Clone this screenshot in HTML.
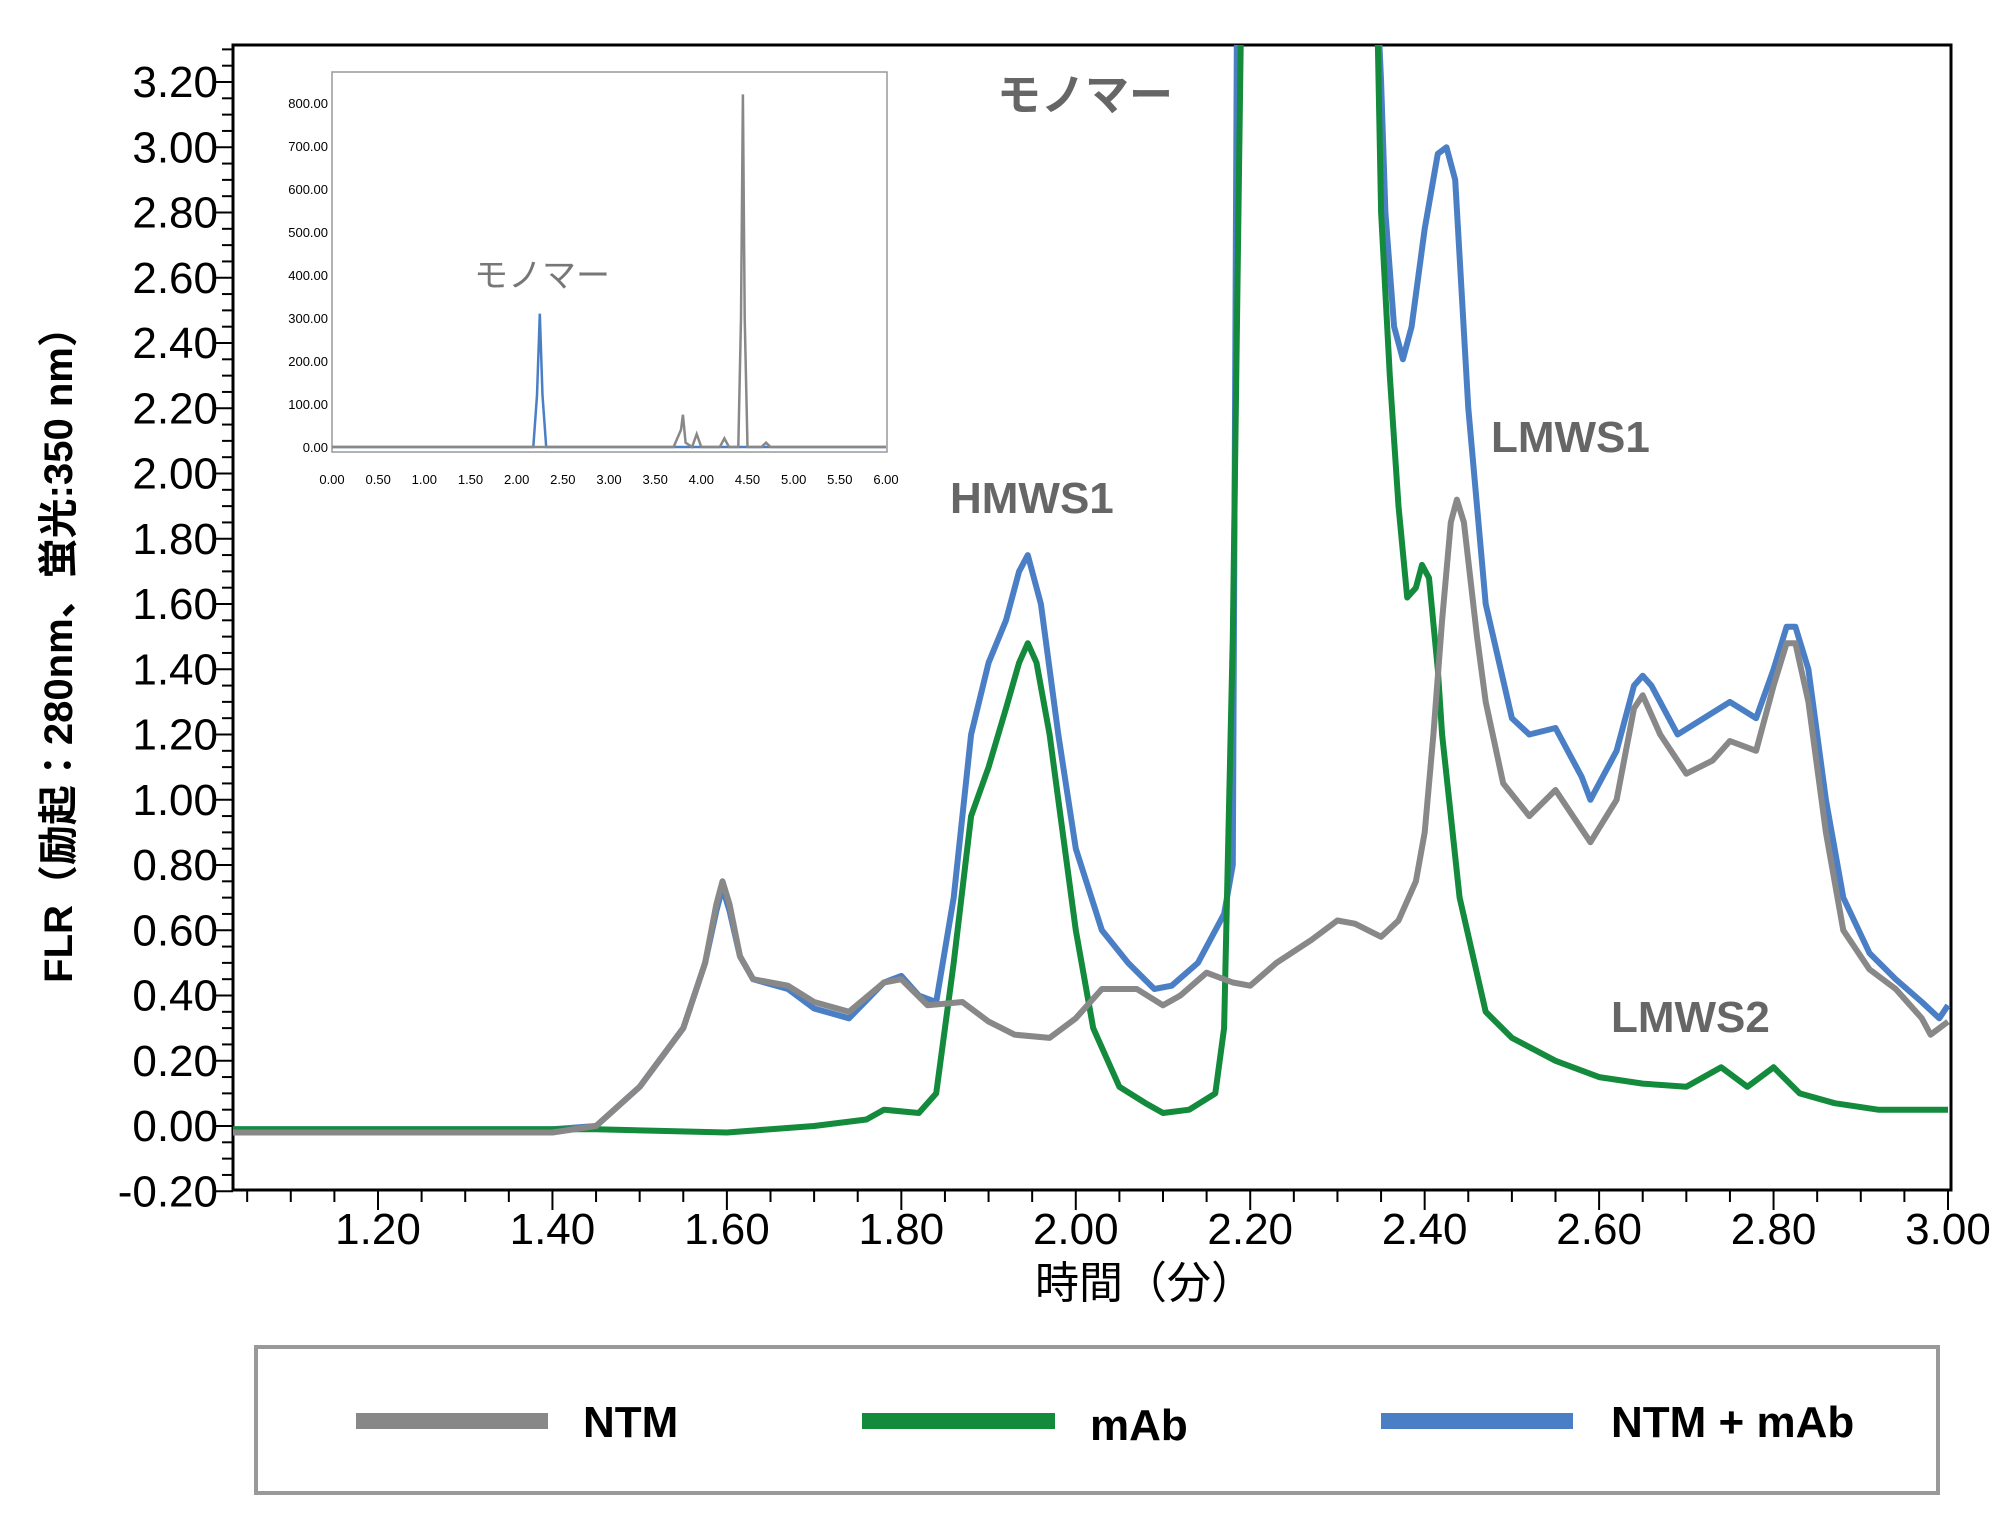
<!DOCTYPE html>
<html><head><meta charset="utf-8"><style>
html,body{margin:0;padding:0;background:#fff;}
svg{display:block;font-family:"Liberation Sans","Noto Sans CJK JP",sans-serif;}
</style></head><body>
<svg id="chart" width="2000" height="1529" viewBox="0 0 2000 1529" xmlns="http://www.w3.org/2000/svg">
<defs><clipPath id="pc"><rect x="233" y="45" width="1718" height="1145"/></clipPath>
<clipPath id="ic"><rect x="332" y="72" width="555" height="380"/></clipPath></defs>
<g id="axes"></g>
<g id="series" clip-path="url(#pc)"></g>
<g id="inset"></g>
<text transform="translate(72,645) rotate(-90)" text-anchor="middle" font-size="40" font-weight="bold">FLR（励起：280nm、蛍光:350 nm）</text>
<text x="1145" y="1298" text-anchor="middle" font-size="44">時間（分）</text>
<text x="997" y="110" font-size="44" font-weight="bold" fill="#666">モノマー</text>
<text x="950" y="513" font-size="44" font-weight="bold" fill="#666">HMWS1</text>
<text x="1491" y="452" font-size="44" font-weight="bold" fill="#666">LMWS1</text>
<text x="1611" y="1032" font-size="44" font-weight="bold" fill="#666">LMWS2</text>
<g>
<rect x="256" y="1347" width="1682" height="146" fill="#fff" stroke="#999" stroke-width="4"/>
<rect x="356" y="1413" width="192" height="16" fill="#888"/>
<text x="583" y="1437" font-size="44" font-weight="bold">NTM</text>
<rect x="862" y="1413" width="193" height="16" fill="#138a3c"/>
<text x="1090" y="1440" font-size="44" font-weight="bold">mAb</text>
<rect x="1381" y="1413" width="192" height="16" fill="#4a7fc6"/>
<text x="1611" y="1437" font-size="44" font-weight="bold">NTM +  mAb</text>
</g>
</svg>
<script>
const xTicks=[1.20,1.40,1.60,1.80,2.00,2.20,2.40,2.60,2.80,3.00];
const yTicks=[-0.20,0.00,0.20,0.40,0.60,0.80,1.00,1.20,1.40,1.60,1.80,2.00,2.20,2.40,2.60,2.80,3.00,3.20];
const ntmT=[1.03,1.40,1.45,1.50,1.55,1.575,1.588,1.595,1.603,1.615,1.63,1.67,1.70,1.74,1.78,1.80,1.83,1.87,1.90,1.93,1.97,2.00,2.03,2.07,2.10,2.12,2.15,2.18,2.20,2.23,2.27,2.30,2.32,2.35,2.37,2.39,2.40,2.41,2.42,2.43,2.437,2.445,2.46,2.47,2.49,2.52,2.55,2.57,2.59,2.62,2.64,2.65,2.67,2.70,2.73,2.75,2.78,2.80,2.815,2.825,2.84,2.86,2.88,2.91,2.94,2.97,2.98,3.00];
const ntmV=[-0.02,-0.02,0.0,0.12,0.3,0.5,0.68,0.75,0.68,0.52,0.45,0.43,0.38,0.35,0.44,0.45,0.37,0.38,0.32,0.28,0.27,0.33,0.42,0.42,0.37,0.40,0.47,0.44,0.43,0.50,0.57,0.63,0.62,0.58,0.63,0.75,0.9,1.2,1.55,1.85,1.92,1.85,1.5,1.3,1.05,0.95,1.03,0.95,0.87,1.0,1.28,1.32,1.2,1.08,1.12,1.18,1.15,1.35,1.48,1.48,1.3,0.9,0.6,0.48,0.42,0.33,0.28,0.32];
const mixT=[1.03,1.40,1.45,1.50,1.55,1.575,1.588,1.595,1.603,1.615,1.63,1.67,1.70,1.74,1.78,1.80,1.82,1.84,1.86,1.88,1.90,1.92,1.935,1.945,1.96,1.98,2.00,2.03,2.06,2.09,2.11,2.14,2.17,2.18,2.185,2.345,2.35,2.355,2.365,2.375,2.385,2.40,2.415,2.425,2.435,2.45,2.47,2.50,2.52,2.55,2.58,2.59,2.62,2.64,2.65,2.66,2.69,2.72,2.75,2.78,2.80,2.815,2.825,2.84,2.86,2.88,2.91,2.94,2.97,2.99,3.00];
const mixV=[-0.01,-0.01,0.0,0.12,0.3,0.5,0.66,0.73,0.66,0.52,0.45,0.42,0.36,0.33,0.44,0.46,0.40,0.38,0.7,1.2,1.42,1.55,1.7,1.75,1.6,1.2,0.85,0.6,0.5,0.42,0.43,0.5,0.65,0.8,3.5,3.5,3.2,2.8,2.45,2.35,2.45,2.75,2.98,3.0,2.9,2.2,1.6,1.25,1.2,1.22,1.07,1.0,1.15,1.35,1.38,1.35,1.2,1.25,1.3,1.25,1.4,1.53,1.53,1.4,1.0,0.7,0.53,0.45,0.38,0.33,0.37];
const mabT=[1.03,1.45,1.60,1.70,1.76,1.78,1.82,1.84,1.86,1.88,1.90,1.92,1.935,1.945,1.955,1.97,1.98,2.00,2.02,2.05,2.08,2.10,2.13,2.16,2.17,2.18,2.19,2.345,2.35,2.36,2.37,2.38,2.39,2.397,2.405,2.415,2.42,2.44,2.47,2.50,2.55,2.60,2.65,2.70,2.74,2.77,2.80,2.83,2.87,2.92,3.00];
const mabV=[-0.01,-0.01,-0.02,0.0,0.02,0.05,0.04,0.1,0.5,0.95,1.1,1.28,1.42,1.48,1.42,1.2,1.0,0.6,0.3,0.12,0.07,0.04,0.05,0.1,0.3,1.5,3.5,3.5,2.8,2.3,1.9,1.62,1.65,1.72,1.68,1.4,1.2,0.7,0.35,0.27,0.2,0.15,0.13,0.12,0.18,0.12,0.18,0.1,0.07,0.05,0.05];
const insXTicks=[0,0.5,1,1.5,2,2.5,3,3.5,4,4.5,5,5.5,6];
const insYTicks=[0,100,200,300,400,500,600,700,800];
const insGrayT=[0,3.7,3.78,3.8,3.83,3.9,3.95,4.0,4.2,4.25,4.3,4.4,4.43,4.45,4.47,4.5,4.65,4.7,4.75,6];
const insGrayV=[0,0,40,75,10,0,30,0,0,20,0,0,300,820,300,0,0,10,0,0];
const insBlueT=[0,2.18,2.22,2.25,2.28,2.32,6];
const insBlueV=[0,0,120,310,120,0,0];

const NS="http://www.w3.org/2000/svg";
const X=v=>378+(v-1.2)*(1948-378)/1.8;
const Y=v=>1126-v*(1126-82)/3.2;
function mk(tag,attrs,parent){const e=document.createElementNS(NS,tag);for(const k in attrs)e.setAttribute(k,attrs[k]);parent.appendChild(e);return e;}
const axes=document.getElementById('axes');
let a=mk('path',{d:`M233 45 V1190 H1951 V45 Z`,fill:'none',stroke:'#000','stroke-width':3},axes);


for(let v=1.05;v<=3.0001;v+=0.05){const maj=Math.abs(Math.round(v*5)-v*5)<1e-6;
 const t=mk('line',{x1:X(v),x2:X(v),y1:1190,y2:maj?1210:1202,stroke:'#000','stroke-width':2},axes);
 
 }
xTicks.forEach(v=>{const t=mk('text',{x:X(v),y:1244,'text-anchor':'middle','font-size':44},axes);t.textContent=v.toFixed(2);
 
 });
for(let v=-0.2;v<=3.3;v+=0.05){const maj=Math.abs(Math.round(v*5)-v*5)<1e-6;
 const t=mk('line',{x1:maj?213:222,x2:233,y1:Y(v),y2:Y(v),stroke:'#000','stroke-width':2},axes);
 
 }
yTicks.forEach(v=>{const t=mk('text',{x:218,y:Y(v)+15,'text-anchor':'end','font-size':44},axes);t.textContent=v.toFixed(2);
 
 });
const ser=document.getElementById('series');
function line(T,V,col,name){const d=T.map((t,i)=>(i?'L':'M')+X(t).toFixed(1)+' '+Y(V[i]).toFixed(1)).join(' ');
 const p=mk('path',{d:d,fill:'none',stroke:col,'stroke-width':6,'stroke-linejoin':'round'},ser);
 
 }
line(mixT,mixV,'#4a7fc6','series-ntm-mab');
line(mabT,mabV,'#138a3c','series-mab');
line(ntmT,ntmV,'#888','series-ntm');
const ins=document.getElementById('inset');
const IX=v=>332+v*(886-332)/6, IY=v=>447-v*(447-103)/800;
let f=mk('rect',{x:332,y:72,width:555,height:380,fill:'#fff',stroke:'#999','stroke-width':1.5},ins);


insYTicks.forEach(v=>{const t=mk('text',{x:328,y:IY(v)+5,'text-anchor':'end','font-size':13},ins);t.textContent=v.toFixed(2);
 
 });
insXTicks.forEach(v=>{const t=mk('text',{x:IX(v),y:484,'text-anchor':'middle','font-size':13},ins);t.textContent=v.toFixed(2);
 
 });
const ig=mk('g',{'clip-path':'url(#ic)'},ins);


function iline(T,V,col,name){const d=T.map((t,i)=>(i?'L':'M')+IX(t).toFixed(1)+' '+IY(V[i]).toFixed(1)).join(' ');
 const p=mk('path',{d:d,fill:'none',stroke:col,'stroke-width':2.5},ig);
 
 }
iline(insBlueT,insBlueV,'#4a7fc6','inset-series-blue');
iline(insGrayT,insGrayV,'#888','inset-series-gray');
const il=mk('text',{x:474,y:287,'font-size':34,fill:'#777'},ins);il.textContent='モノマー';


</script>
</body></html>
